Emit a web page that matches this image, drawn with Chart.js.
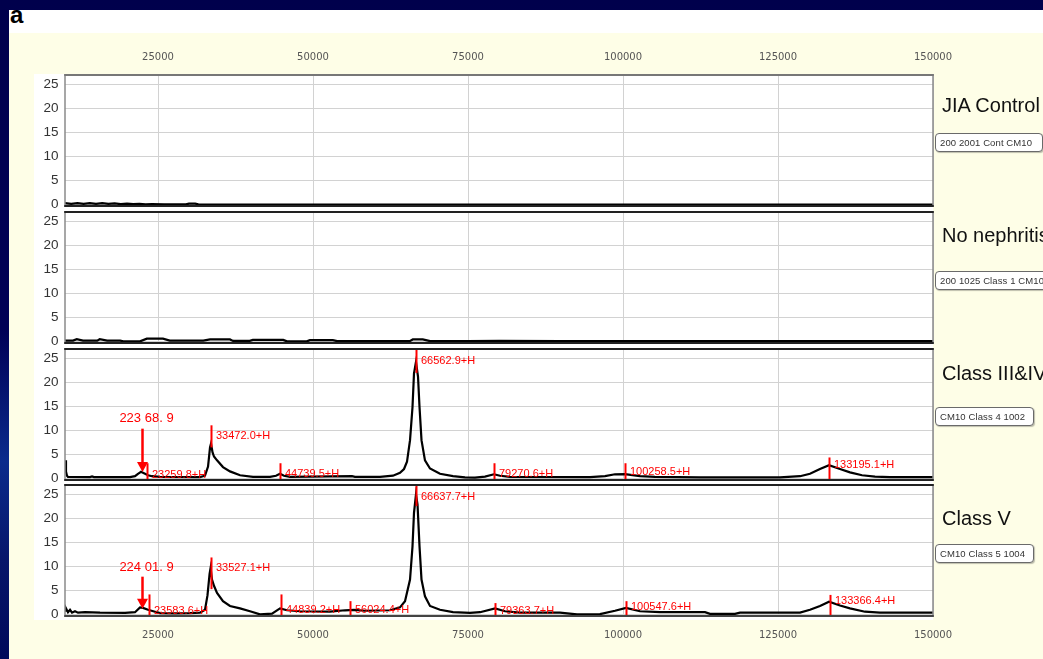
<!DOCTYPE html>
<html><head><meta charset="utf-8">
<script src="https://cdn.jsdelivr.net/npm/chart.js@4.4.1/dist/chart.umd.min.js"></script>
<style>
html,body{margin:0;padding:0;width:1043px;height:659px;overflow:hidden;}
body{position:relative;background:linear-gradient(180deg,#00004c 0%,#000056 50%,#0b2b8c 70%,#07166a 85%,#00095a 100%);font-family:"Liberation Sans",Arial,sans-serif;}
#white{position:absolute;left:9px;top:10px;width:1034px;height:23px;background:#ffffff;}
#cream{position:absolute;left:9px;top:33px;width:1034px;height:626px;background:#fefee7;}
#plotbg{position:absolute;left:34px;top:74px;width:899px;height:546px;background:#ffffff;}
canvas{position:absolute;}
.lab{position:absolute;left:942px;font-size:20px;line-height:20px;color:#111;white-space:nowrap;}
.box{position:absolute;left:935px;height:17px;line-height:17px;padding:0 0 0 4px;border:1px solid #6a6a6a;border-radius:4px;background:#fff;font-size:9.5px;letter-spacing:0.1px;color:#333;white-space:nowrap;box-shadow:1px 1px 1px rgba(0,0,0,0.25);overflow:hidden;}
#a{position:absolute;left:10px;top:3px;font-weight:bold;font-size:24px;line-height:24px;color:#000;}
</style></head>
<body>
<div id="white"></div>
<div id="cream"></div>
<div id="plotbg"></div>
<div id="a">a</div>
<canvas id="c1" width="932" height="175" style="left:33px;top:40px;"></canvas>
<canvas id="c2" width="932" height="141" style="left:33px;top:211px;"></canvas>
<canvas id="c3" width="932" height="141" style="left:33px;top:348px;"></canvas>
<canvas id="c4" width="932" height="163" style="left:33px;top:484px;"></canvas>
<div class="lab" style="top:95px;">JIA Control</div>
<div class="box" style="top:133px;width:102px;">200 2001 Cont CM10</div>
<div class="lab" style="top:225px;">No nephritis</div>
<div class="box" style="top:271px;width:120px;">200 1025 Class 1 CM10</div>
<div class="lab" style="top:363px;">Class III&amp;IV</div>
<div class="box" style="top:407px;width:93px;">CM10 Class 4 1002</div>
<div class="lab" style="top:508px;">Class V</div>
<div class="box" style="top:544px;width:93px;">CM10 Class 5 1004</div>
<script>
// ---- axis ticks ----
const xTicks = [25000, 50000, 75000, 100000, 125000, 150000];
const yTicks = [0, 5, 10, 15, 20, 25];

// ---- JIA Control ----
const jiaMass = [10000, 11000, 12000, 13000, 14000, 15000, 16000, 17000, 18000, 19000, 20000, 21000, 22000, 23000, 24000, 26000, 29500, 30000, 31000, 31500, 40000, 60000, 80000, 100000, 120000, 150000];
const jiaInt  = [0.3, 0.15, 0.3, 0.15, 0.3, 0.15, 0.3, 0.15, 0.25, 0.1, 0.2, 0.1, 0.15, 0.05, 0.1, 0.05, 0.05, 0.2, 0.2, 0.05, 0, 0, 0, 0, 0, 0];

// ---- No nephritis ----
const noNephMass = [10000, 11300, 11900, 12900, 15200, 15600, 16800, 18900, 19400, 22100, 23200, 25800, 26900, 32300, 33400, 36600, 37100, 39800, 40300, 45200, 45800, 49000, 49500, 53200, 53900, 65600, 66100, 67700, 68900, 75000, 80000, 90000, 100000, 110000, 120000, 130000, 140000, 150000];
const noNephInt  = [0.2, 0.2, 0.5, 0.2, 0.2, 0.5, 0.2, 0.2, 0.05, 0.05, 0.6, 0.6, 0.2, 0.2, 0.45, 0.45, 0.15, 0.15, 0.35, 0.35, 0.05, 0.05, 0.3, 0.3, 0.1, 0.1, 0.45, 0.45, 0.1, 0.1, 0.15, 0.1, 0.1, 0.1, 0.1, 0.1, 0.1, 0.1];

// ---- Class III&IV ----
const class34Mass = [10000, 10160, 10320, 10480, 14030, 14360, 14680, 20480, 21290, 21770, 22260, 22740, 23390, 24030, 25320, 31770, 32580, 33070, 33390, 33550, 33790, 34030, 34520, 35480, 36610, 38230, 40320, 43060, 44030, 44680, 45320, 46290, 56290, 56770, 60810, 62900, 64030, 64680, 65160, 65650, 66050, 66290, 66610, 66940, 67180, 67500, 68060, 68870, 70480, 72580, 74520, 76130, 77740, 79190, 80160, 81770, 94680, 97100, 98710, 100320, 102740, 105160, 112420, 125320, 128550, 130160, 131770, 133230, 135000, 136610, 138550, 140650, 143060, 150000];
const class34Int  = [3.8, 1.5, 0.6, 0.35, 0.3, 0.45, 0.3, 0.3, 0.5, 1.0, 1.4, 1.1, 0.7, 0.5, 0.35, 0.3, 0.6, 2.5, 6.5, 7.3, 5.5, 4.6, 3.8, 2.4, 1.5, 0.7, 0.35, 0.35, 0.6, 1.0, 0.6, 0.35, 0.5, 0.35, 0.35, 0.6, 1.2, 2.0, 3.5, 8.0, 14.9, 21.9, 24.3, 21.2, 14.9, 8.0, 3.8, 2.1, 1.0, 0.5, 0.25, 0.2, 0.4, 0.9, 0.6, 0.35, 0.3, 0.5, 0.9, 0.95, 0.5, 0.35, 0.25, 0.25, 0.5, 1.0, 2.0, 2.8, 2.0, 1.3, 0.7, 0.4, 0.3, 0.3];
const class34PeakMass   = [23259.8, 33472.0, 44739.5, 66562.9, 79270.6, 100258.5, 133195.1];
const class34PeakTop    = [3.2, 11.1, 3.2, 28, 3.2, 3.2, 4.4];
const class34PeakBottom = [-1, 6.5, -1, 22, -1, -1, -1];
const class34PeakLabelY = [0.85, 8.8, 1.05, 24.6, 1.05, 1.3, 2.9];
const class34ArrowMass = 22368.9, class34ArrowText = '223 68. 9';
const class34ArrowTop = 10.4, class34ArrowTip = 1.4, class34ArrowTextY = 12.6;

// ---- Class V ----
const class5Mass = [10000, 10160, 10480, 10810, 11130, 11610, 12100, 13230, 15650, 19680, 21290, 22100, 22580, 23390, 24520, 25320, 27740, 30160, 31770, 32580, 32980, 33320, 33480, 33710, 34030, 34520, 35480, 36610, 38230, 39840, 41450, 43390, 44680, 45810, 47900, 52740, 55160, 56610, 58390, 62420, 64030, 64840, 65650, 66050, 66290, 66610, 66860, 67180, 67500, 68060, 68870, 70480, 72580, 75320, 76940, 79360, 80970, 83390, 89840, 92580, 96290, 98710, 100480, 102740, 105970, 113230, 114030, 118060, 118870, 128550, 130160, 131770, 133230, 135000, 136610, 139030, 141450, 150000];
const class5Int  = [0.8, 1.3, 0.5, 1.0, 0.4, 0.7, 0.4, 0.5, 0.4, 0.35, 0.5, 1.5, 1.4, 1.0, 0.6, 0.3, 0.25, 0.3, 0.4, 1.0, 4.0, 8.5, 9.7, 7.3, 6.0, 4.5, 2.8, 1.8, 1.3, 0.7, 0.05, 0.2, 1.3, 0.9, 0.7, 0.6, 0.9, 1.0, 0.8, 0.9, 1.5, 2.8, 7.3, 14.2, 21.2, 25.0, 22.9, 14.2, 7.3, 3.8, 1.8, 1.0, 0.5, 0.35, 0.5, 1.3, 0.7, 0.4, 0.4, 0.05, 0.1, 0.8, 1.4, 0.7, 0.5, 0.5, 0.15, 0.15, 0.4, 0.4, 1.0, 1.8, 2.7, 1.9, 1.3, 0.6, 0.4, 0.4];
const class5PeakMass   = [23583.6, 33527.1, 44839.2, 56024.4, 66637.7, 79363.7, 100547.6, 133366.4];
const class5PeakTop    = [4.2, 11.9, 4.2, 2.8, 28, 2.4, 2.8, 4.1];
const class5PeakBottom = [-1, 5.3, -1, -1, 22.6, -1, -1, -1];
const class5PeakLabelY = [0.85, 9.8, 1.0, 1.0, 24.6, 0.85, 1.5, 2.9];
const class5ArrowMass = 22401.9, class5ArrowText = '224 01. 9';
const class5ArrowTop = 7.9, class5ArrowTip = 1.2, class5ArrowTextY = 9.9;

const RED = '#ff0000';
const peaksPlugin = {
  id: 'peaks',
  afterDatasetsDraw(chart, args, opts) {
    const {ctx, chartArea: a, scales: {x, y}} = chart;
    const pm = opts.mass || [];
    ctx.save();
    ctx.beginPath(); ctx.rect(a.left, a.top, a.right - a.left, a.bottom - a.top); ctx.clip();
    ctx.strokeStyle = RED; ctx.lineWidth = 2;
    pm.forEach((m, i) => {
      const px = Math.round(x.getPixelForValue(m)) + 0.5;
      ctx.beginPath();
      ctx.moveTo(px, y.getPixelForValue(opts.top[i]));
      ctx.lineTo(px, y.getPixelForValue(opts.bottom[i]));
      ctx.stroke();
    });
    ctx.restore();
    ctx.save();
    ctx.fillStyle = RED;
    ctx.font = '11px "Liberation Sans", Arial, sans-serif';
    ctx.textBaseline = 'middle'; ctx.textAlign = 'left';
    pm.forEach((m, i) => {
      const px = Math.round(x.getPixelForValue(m));
      ctx.fillText(m.toFixed(1) + '+H', px + 5, y.getPixelForValue(opts.labelY[i]));
    });
    if (opts.arrow) {
      const ar = opts.arrow;
      const px = Math.round(x.getPixelForValue(ar.mass)) + 0.5;
      const yTop = y.getPixelForValue(ar.top), yTip = y.getPixelForValue(ar.tip);
      ctx.strokeStyle = RED; ctx.lineWidth = 2.5;
      ctx.beginPath(); ctx.moveTo(px, yTop); ctx.lineTo(px, yTip - 8); ctx.stroke();
      ctx.beginPath(); ctx.moveTo(px - 5.5, yTip - 10); ctx.lineTo(px + 5.5, yTip - 10); ctx.lineTo(px, yTip); ctx.closePath(); ctx.fill();
      ctx.font = '13px "Liberation Sans", Arial, sans-serif';
      ctx.textAlign = 'center';
      ctx.fillText(ar.text, px + 4, y.getPixelForValue(ar.textY));
    }
    ctx.restore();
  },
  afterDraw(chart, args, opts) {
    const {ctx, chartArea: a} = chart;
    ctx.save();
    ctx.lineWidth = 1.5; ctx.strokeStyle = '#8a8a8a';
    ctx.beginPath();
    ctx.moveTo(a.left, a.top); ctx.lineTo(a.left, a.bottom);
    ctx.moveTo(a.right, a.top); ctx.lineTo(a.right, a.bottom);
    ctx.stroke();
    ctx.lineWidth = 2;
    ctx.strokeStyle = opts.topColor || '#222';
    ctx.beginPath(); ctx.moveTo(a.left - 0.75, a.top + 1); ctx.lineTo(a.right + 0.75, a.top + 1); ctx.stroke();
    ctx.strokeStyle = opts.bottomColor || '#222';
    ctx.beginPath(); ctx.moveTo(a.left - 0.75, a.bottom - 1); ctx.lineTo(a.right + 0.75, a.bottom - 1); ctx.stroke();
    ctx.restore();
  }
};

function pts(ms, vs) { return ms.map((m, i) => ({x: m, y: vs[i]})); }

function makeChart(id, cfg) {
  return new Chart(document.getElementById(id), {
    type: 'line',
    data: { datasets: [{ data: pts(cfg.mass, cfg.int), borderColor: '#000', borderWidth: 2.2, pointRadius: 0, tension: 0, fill: false }] },
    plugins: [peaksPlugin],
    options: {
      responsive: false, animation: false, devicePixelRatio: 1,
      layout: { padding: { left: 0, right: 32, top: 0, bottom: cfg.padBottom } },
      plugins: { legend: { display: false }, tooltip: { enabled: false }, peaks: cfg.peaks },
      scales: {
        x: {
          type: 'linear', position: cfg.xPos, min: 10000, max: 150000,
          afterBuildTicks: s => { s.ticks = xTicks.map(v => ({value: v})); },
          afterFit: s => { s.height = cfg.xH; s.paddingLeft = 0; s.paddingRight = 0; },
          grid: { color: '#d2d2d2', lineWidth: 1, drawTicks: false },
          border: { display: false },
          ticks: { display: cfg.showX, autoSkip: false, maxRotation: 0, padding: cfg.xPad, color: '#555',
                   font: { family: '"DejaVu Sans", Verdana, sans-serif', size: 10 },
                   callback: v => String(v) }
        },
        y: {
          type: 'linear', min: -0.5, max: 27.2,
          afterBuildTicks: s => { s.ticks = yTicks.map(v => ({value: v})); },
          afterFit: s => { s.width = 32; s.paddingTop = 0; s.paddingBottom = 0; },
          grid: { color: '#d2d2d2', lineWidth: 1, drawTicks: false },
          border: { display: false },
          ticks: { padding: 6.5, color: '#333', font: { family: '"Liberation Sans", Arial, sans-serif', size: 13.5 } }
        }
      }
    }
  });
}

makeChart('c1', { mass: jiaMass, int: jiaInt, xPos: 'top', xH: 34, showX: true, xPad: 11, padBottom: 8,
  peaks: { topColor: '#777' } });
makeChart('c2', { mass: noNephMass, int: noNephInt, xPos: 'bottom', xH: 0, showX: false, xPad: 0, padBottom: 8,
  peaks: {} });
makeChart('c3', { mass: class34Mass, int: class34Int, xPos: 'bottom', xH: 0, showX: false, xPad: 0, padBottom: 8,
  peaks: { mass: class34PeakMass, top: class34PeakTop, bottom: class34PeakBottom, labelY: class34PeakLabelY,
    arrow: { mass: class34ArrowMass, text: class34ArrowText, top: class34ArrowTop, tip: class34ArrowTip, textY: class34ArrowTextY } } });
makeChart('c4', { mass: class5Mass, int: class5Int, xPos: 'bottom', xH: 30, showX: true, xPad: 12, padBottom: 0,
  peaks: { mass: class5PeakMass, top: class5PeakTop, bottom: class5PeakBottom, labelY: class5PeakLabelY, bottomColor: '#444',
    arrow: { mass: class5ArrowMass, text: class5ArrowText, top: class5ArrowTop, tip: class5ArrowTip, textY: class5ArrowTextY } } });
</script>
</body></html>
